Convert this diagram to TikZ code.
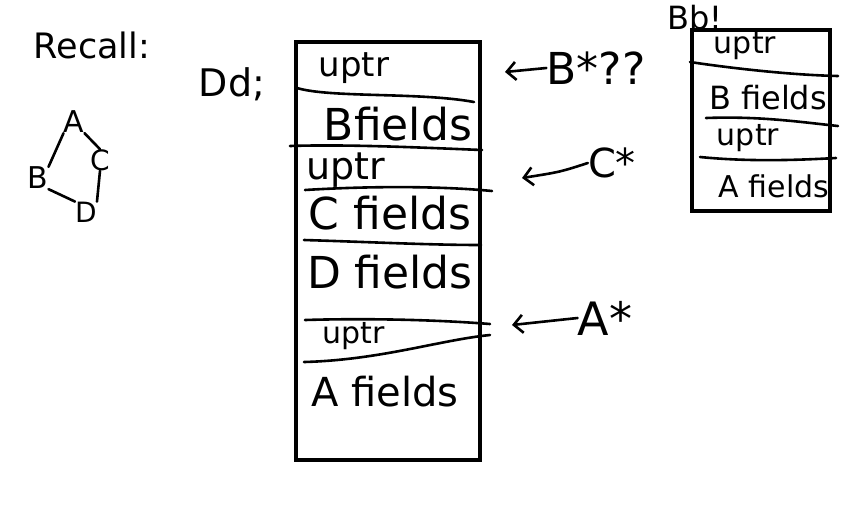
\documentclass[tikz,border=0pt]{standalone}
\usepackage{fontspec}
\setmainfont{DejaVu Sans}
\usetikzlibrary{arrows.meta}
\begin{document}
\begin{tikzpicture}[x=1pt,y=-1pt,
  pen/.style={line width=2.6pt,line cap=round,line join=round},
  frame/.style={line width=4pt},
  fs/.style={font=\fontsize{#1}{#1}\selectfont,inner sep=0pt},
  arr/.style={pen,-{Straight Barb[length=9pt,width=18pt,line width=2.6pt]}}]
\useasboundingbox (0,0) rectangle (866,504);
% Recall
\node[fs=35] (recall) at (92,45) {Recall:};
\node[fs=30] (A) at (74,122) {A};
\node[fs=30] (B) at (38,178) {B};
\node[fs=28] (C) at (100,160) {C};
\node[fs=28] (D) at (86,212) {D};
\draw[pen] (A.south west) -- (B.north east);
\draw[pen] (A.south east) -- (C.north);
\draw[pen] (B.south east) -- (D.north west);
\draw[pen] (C.south) -- (D.north east);
\node[fs=38] (decl) at (232,84) {Dd;};
% main box
\draw[frame] (296,42) rectangle (480,460);
\draw[pen] (297,88) .. controls (330,98) and (420,92) .. (474,102);
\draw[pen] (290,146) .. controls (350,144) and (430,148) .. (482,150);
\draw[pen] (305,190) .. controls (370,186) and (440,186) .. (492,191);
\draw[pen] (304,240) .. controls (370,242) and (430,245) .. (481,245);
\draw[pen] (305,320) .. controls (370,318) and (440,320) .. (490,324);
\draw[pen] (304,362) .. controls (380,360) and (440,340) .. (490,335);
\node[fs=34] (u1) at (354,68) {uptr};
\node[fs=44] (bf) at (398,124) {Bfields};
\node[fs=38] (u2) at (346,170) {uptr};
\node[fs=44] (cf) at (390,213) {C fields};
\node[fs=44] (df) at (390,272) {D fields};
\node[fs=30] (u3) at (354,336) {uptr};
\node[fs=40] (af) at (385,392) {A fields};
% arrows
\node[fs=44] (bstar) at (596,68) {B*??};
\coordinate (bt) at (505,72);
\draw[arr] (bstar.west) -- (bt);
\node[fs=40] (cstar) at (612,163) {C*};
\coordinate (ct) at (522,178);
\draw[arr] (cstar.west) .. controls (560,172) .. (ct);
\node[fs=46] (astar) at (605,318) {A*};
\coordinate (at) at (512,325);
\draw[arr] (astar.west) -- (at);
% right box
\node[fs=32] (bdecl) at (695,18) {Bb!};
\draw[frame] (692,30) rectangle (830,211);
\draw[pen] (690,62) .. controls (730,68) and (790,75) .. (838,76);
\draw[pen] (706,118) .. controls (760,116) and (800,122) .. (838,126);
\draw[pen] (700,157) .. controls (750,162) and (800,160) .. (836,158);
\node[fs=30] (ru1) at (745,46) {uptr};
\node[fs=32] (rbf) at (768,98) {B fields};
\node[fs=30] (ru2) at (748,138) {uptr};
\node[fs=30] (raf) at (774,186) {A fields};
\end{tikzpicture}
\end{document}
